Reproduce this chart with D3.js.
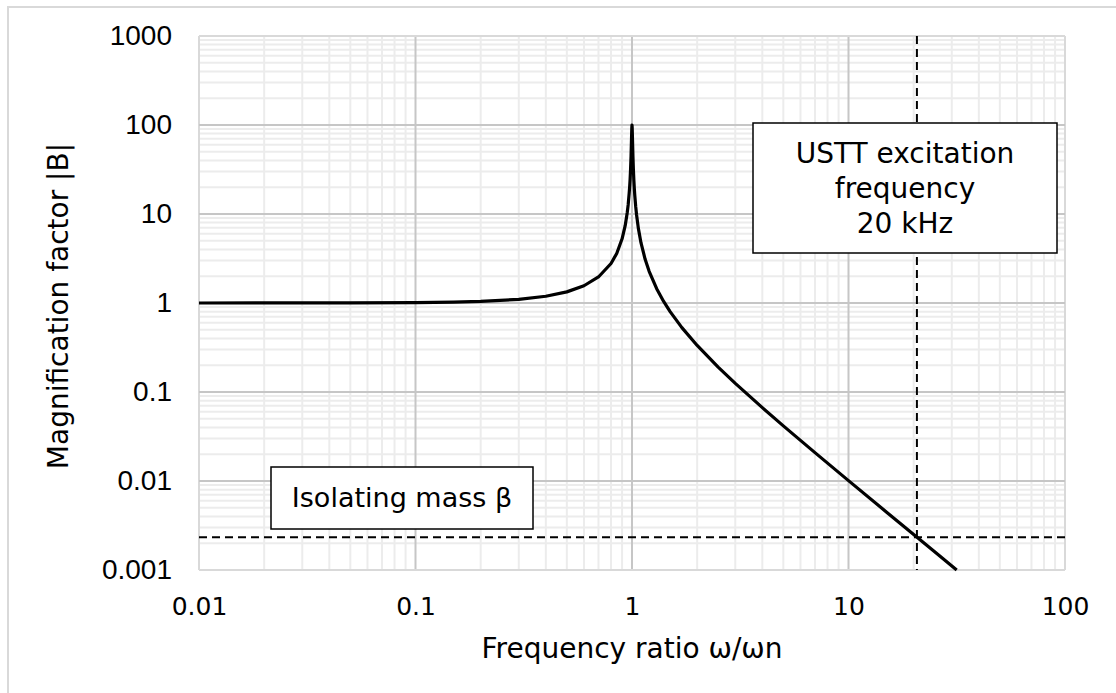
<!DOCTYPE html>
<html>
<head>
<meta charset="utf-8">
<script src="https://cdn.jsdelivr.net/npm/d3@7"></script>
<style>
  html, body { margin: 0; padding: 0; background: #fff; }
  svg { display: block; }
</style>
</head>
<body>
<svg id="chart" width="1116" height="693"></svg>
<script>
// Frequency ratio r = ω/ωn and magnification factor |B| of the response curve
const ratio = [0.01, 0.05, 0.1, 0.15, 0.2, 0.3, 0.4, 0.5, 0.6, 0.7, 0.8, 0.85, 0.9, 0.93, 0.95, 0.96, 0.97,
               0.975, 0.98, 0.985, 0.99, 0.995, 0.998, 1.0, 1.002, 1.005, 1.01, 1.015, 1.02, 1.025, 1.03,
               1.04, 1.05, 1.07, 1.1, 1.15, 1.2, 1.3, 1.4, 1.5, 1.7, 2, 2.5, 3, 4, 5, 7, 10, 15, 20, 25, 31.6];
const magnification = [1.0001, 1.0025, 1.0101, 1.023, 1.0417, 1.0989, 1.1905, 1.3333, 1.5625, 1.9608, 2.7778,
               3.6036, 5.263, 7.40, 10.256, 12.66, 16.92, 19.87, 24.5, 31.89, 44.98, 70.97, 93.0, 100, 92.7,
               70.45, 44.45, 31.37, 24.0, 19.36, 16.19, 12.16, 9.75, 6.90, 4.76, 3.10, 2.27, 1.449, 1.042,
               0.8, 0.529, 0.3333, 0.1905, 0.125, 0.0667, 0.04167, 0.02083, 0.0101, 0.004464, 0.002506,
               0.001603, 0.001001];

// Axis ticks and labels
const xTicks = [0.01, 0.1, 1, 10, 100];
const xTickLabels = ["0.01", "0.1", "1", "10", "100"];
const yTicks = [0.001, 0.01, 0.1, 1, 10, 100, 1000];
const yTickLabels = ["0.001", "0.01", "0.1", "1", "10", "100", "1000"];

// Reference lines: excitation frequency ratio and isolating-mass level
const excitationRatio = [20.7];
const isolationLevel = [0.00234];

const svg = d3.select("#chart");
const W = 1116, H = 693;
const plot = { left: 199, right: 1065, top: 36, bottom: 570 };
const font = "'DejaVu Sans', Verdana, sans-serif";

// Outer chart frame
svg.append("rect")
  .attr("x", 8).attr("y", 7).attr("width", W - 8 + 2).attr("height", H)
  .attr("fill", "#fff").attr("stroke", "#d9d9d9").attr("stroke-width", 2);

const x = d3.scaleLog().domain([0.01, 100]).range([plot.left, plot.right]);
const y = d3.scaleLog().domain([0.001, 1000]).range([plot.bottom, plot.top]);

// Minor grid (2..9 within each decade)
const minorX = [], minorY = [];
xTicks.slice(0, -1).forEach(t => { for (let k = 2; k <= 9; k++) minorX.push(t * k); });
yTicks.slice(0, -1).forEach(t => { for (let k = 2; k <= 9; k++) minorY.push(t * k); });

const grid = svg.append("g");
grid.selectAll(".mx").data(minorX).join("line")
  .attr("x1", d => x(d)).attr("x2", d => x(d))
  .attr("y1", plot.top).attr("y2", plot.bottom)
  .attr("stroke", "#ececec").attr("stroke-width", 2);
grid.selectAll(".my").data(minorY).join("line")
  .attr("y1", d => y(d)).attr("y2", d => y(d))
  .attr("x1", plot.left).attr("x2", plot.right)
  .attr("stroke", "#ececec").attr("stroke-width", 2);

// Major grid
grid.selectAll(".Mx").data(xTicks).join("line")
  .attr("x1", d => x(d)).attr("x2", d => x(d))
  .attr("y1", plot.top).attr("y2", plot.bottom)
  .attr("stroke", d => (d === 0.01 || d === 100) ? "#d9d9d9" : "#c6c6c6").attr("stroke-width", 2);
grid.selectAll(".My").data(yTicks).join("line")
  .attr("y1", d => y(d)).attr("y2", d => y(d))
  .attr("x1", plot.left).attr("x2", plot.right)
  .attr("stroke", d => (d === 0.001 || d === 1000) ? "#d9d9d9" : "#c6c6c6").attr("stroke-width", 2);

// Tick labels via d3 axes (no domain/tick lines)
const xAxis = svg.append("g")
  .attr("transform", `translate(0,${plot.bottom})`)
  .call(d3.axisBottom(x).tickValues(xTicks).tickFormat((d, i) => xTickLabels[i]).tickSize(0).tickPadding(27));
xAxis.select(".domain").remove();
xAxis.selectAll("text").attr("font-size", 25).attr("fill", "#000").attr("font-family", font);

const yAxis = svg.append("g")
  .attr("transform", `translate(${plot.left},0)`)
  .call(d3.axisLeft(y).tickValues(yTicks).tickFormat((d, i) => yTickLabels[i]).tickSize(0).tickPadding(27));
yAxis.select(".domain").remove();
yAxis.selectAll("text").attr("font-size", 28).attr("fill", "#000")
  .attr("font-family", "'Liberation Sans', Arial, sans-serif");

// Dashed reference lines
svg.selectAll(".vref").data(excitationRatio).join("line")
  .attr("x1", d => x(d)).attr("x2", d => x(d))
  .attr("y1", plot.top).attr("y2", plot.bottom)
  .attr("stroke", "#000").attr("stroke-width", 2).attr("stroke-dasharray", "8,5");
svg.selectAll(".href").data(isolationLevel).join("line")
  .attr("y1", d => y(d)).attr("y2", d => y(d))
  .attr("x1", plot.left).attr("x2", plot.right)
  .attr("stroke", "#000").attr("stroke-width", 2).attr("stroke-dasharray", "8,5");

// Response curve
const pts = ratio.map((r, i) => [r, magnification[i]]);
svg.append("path")
  .datum(pts)
  .attr("fill", "none").attr("stroke", "#000").attr("stroke-width", 3.2)
  .attr("stroke-linejoin", "round")
  .attr("d", d3.line().x(d => x(d[0])).y(d => y(d[1])));

// Annotation boxes
svg.append("rect").attr("x", 271).attr("y", 467).attr("width", 262).attr("height", 62)
  .attr("fill", "#fff").attr("stroke", "#000").attr("stroke-width", 1.5);
svg.append("text").attr("x", 402).attr("y", 507).attr("text-anchor", "middle")
  .attr("font-family", font).attr("font-size", 27).text("Isolating mass β");

svg.append("rect").attr("x", 753).attr("y", 123).attr("width", 304).attr("height", 130)
  .attr("fill", "#fff").attr("stroke", "#000").attr("stroke-width", 1.5);
const lines = ["USTT excitation", "frequency", "20 kHz"];
svg.append("g").selectAll("text").data(lines).join("text")
  .attr("x", 905).attr("y", (d, i) => 162.5 + i * 35.3).attr("text-anchor", "middle")
  .attr("font-family", font).attr("font-size", 28).text(d => d);

// Axis titles
svg.append("text").attr("x", (plot.left + plot.right) / 2).attr("y", 658).attr("text-anchor", "middle")
  .attr("font-family", font).attr("font-size", 28).text("Frequency ratio ω/ωn");
svg.append("text").attr("transform", `translate(68,306) rotate(-90)`)
  .attr("text-anchor", "middle")
  .attr("font-family", font).attr("font-size", 28).text("Magnification factor |B|");
</script>
</body>
</html>
